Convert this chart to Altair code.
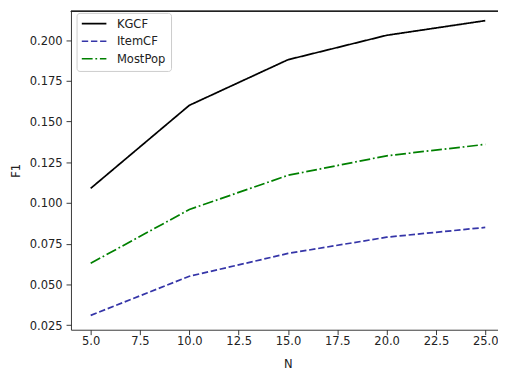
import altair as alt
import pandas as pd

N = [5, 10, 15, 20, 25]
kgcf = [0.109, 0.160, 0.188, 0.203, 0.212]
itemcf = [0.031, 0.055, 0.069, 0.079, 0.085]
mostpop = [0.063, 0.096, 0.117, 0.129, 0.136]

series = ["KGCF", "ItemCF", "MostPop"]
colors = ["#000000", "#3535a8", "#008000"]
dashes = [[1, 0], [6.5, 2.8], [11, 2.8, 1.8, 2.8]]

x_ticks = [5.0, 7.5, 10.0, 12.5, 15.0, 17.5, 20.0, 22.5, 25.0]
y_ticks = [0.025, 0.050, 0.075, 0.100, 0.125, 0.150, 0.175, 0.200]

rows = []
for name, vals in zip(series, [kgcf, itemcf, mostpop]):
    for n, v in zip(N, vals):
        rows.append({"N": n, "F1": v, "method": name})
df = pd.DataFrame(rows)

W, H = 434, 324
FONT = "DejaVu Sans"
FS = 11.7

lines = alt.Chart(df).mark_line(strokeWidth=1.75, clip=True).encode(
    x=alt.X("N:Q", scale=alt.Scale(domain=[4.0, 4.0 + W / 20.05], nice=False, zero=False),
            axis=alt.Axis(values=x_ticks, format=".1f", title="N", titleX=220.5,
                          labelPadding=1, titlePadding=12)),
    y=alt.Y("F1:Q", scale=alt.Scale(domain=[0.02216, 0.21797], nice=False, zero=False),
            axis=alt.Axis(values=y_ticks, format=".3f", title="F1",
                          labelPadding=4, titlePadding=8)),
    color=alt.Color("method:N", scale=alt.Scale(domain=series, range=colors), title=None),
    strokeDash=alt.StrokeDash("method:N", scale=alt.Scale(domain=series, range=dashes), title=None),
)

top = alt.Chart(df).mark_rule(color="#222222", strokeWidth=0.9).encode(
    x=alt.value(0), x2=alt.value(W), y=alt.value(0.5)
)

chart = alt.layer(lines, top).properties(
    width=W, height=H,
    autosize=alt.AutoSizeParams(type="none"),
    padding={"left": 64, "top": 0, "right": 0, "bottom": 41},
).configure_view(stroke=None).configure_axis(
    grid=False,
    domainColor="#222222", domainWidth=0.9,
    tickColor="#222222", tickWidth=0.9, tickSize=5,
    labelFont=FONT, labelFontSize=FS, labelColor="#222222",
    titleFont=FONT, titleFontSize=FS, titleColor="#222222", titleFontWeight="normal",
).configure_legend(
    orient="none", legendX=5.7, legendY=2,
    symbolType="M-1.14,0H3.86", symbolSize=100, symbolStrokeWidth=1.75,
    labelFont=FONT, labelFontSize=FS, labelColor="#222222", labelOffset=24,
    rowPadding=4.8, padding=5,
    fillColor="white", strokeColor="#cccccc", cornerRadius=3,
)

chart.save("out.html", embed_options={"renderer": "svg", "actions": False})
